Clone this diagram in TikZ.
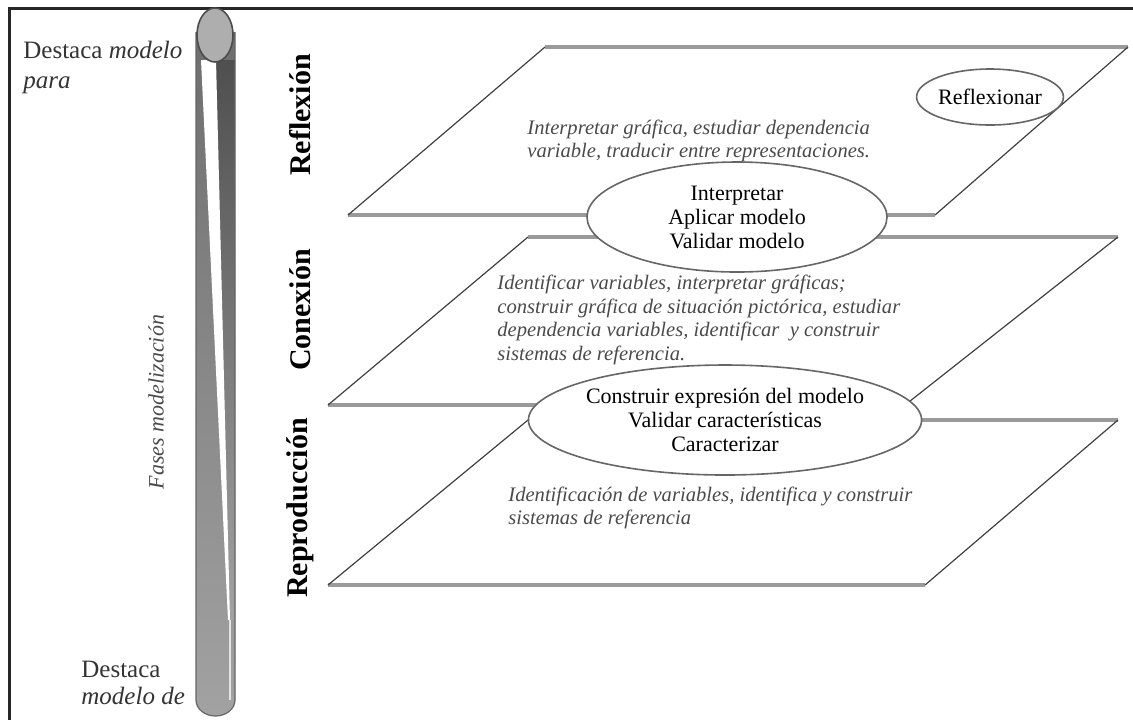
\documentclass[tikz,border=0pt]{standalone}
\usepackage{fontspec}
\setmainfont{Liberation Serif}
\usetikzlibrary{shapes.geometric}

\definecolor{bar_dark}{HTML}{4F4F4F}
\definecolor{bar_mid}{HTML}{6E6E6E}
\definecolor{bar_light}{HTML}{A2A2A2}
\definecolor{cap_gray}{HTML}{AEAEAE}
\definecolor{edge_gray}{HTML}{9A9A9A}
\definecolor{text_gray}{HTML}{4A4A4A}

\begin{document}
\begin{tikzpicture}[x=0.5pt, y=-0.5pt,
	hedge/.style={line width=1.6pt, edge_gray},
	sedge/.style={line width=0.6pt, black!75},
	phase/.style={ellipse, draw=black!60, line width=0.8pt, fill=white, inner sep=0pt, align=center, font=\fontsize{11}{12}\selectfont},
	task/.style={anchor=west, align=left, text=text_gray, inner sep=0pt, font=\fontsize{10.3}{11.7}\selectfont\itshape},
	level/.style={rotate=90, inner sep=0pt, font=\fontsize{15}{18}\selectfont\bfseries},
	side/.style={anchor=west, align=left, inner sep=0pt, text=black!80}]
   \useasboundingbox (0,0) rectangle (1133,720);
   % frame
   \draw [line width=1.5pt, black!85] (1133,8) -- (9,8) -- (9,720);
   % bar body
   \shade [top color=bar_mid, bottom color=bar_light] (196,32) -- (196,700) arc [start angle=180, end angle=0, x radius=19.5, y radius=16] -- (235,32) -- cycle;
   \shade [top color=bar_dark, bottom color=bar_light] (216,60) -- (235,60) -- (235,620) -- (230,620) -- cycle;
   % white stripe
   \fill [white] (201,60) -- (216,60) -- (230,620) -- (228,620) -- cycle;
   \draw [white!70!bar_light, line width=0.8pt] (230,620) -- (230,700);
   \draw [black!60, line width=0.6pt] (196,32) -- (196,700) arc [start angle=180, end angle=0, x radius=19.5, y radius=16] -- (235,32);
   % top cap
   \draw [fill=cap_gray, draw=black!70, line width=0.8pt] (215,35) ellipse [x radius=18, y radius=27];
   % side texts
   \node [side, font=\fontsize{12.5}{15}\selectfont] (para) at (23,67) {Destaca \textit{modelo}\\\textit{para}};
   \node [side, font=\fontsize{12.5}{13.5}\selectfont] (de) at (81,683) {Destaca\\\textit{modelo de}};
   \node [rotate=90, inner sep=0pt, text=text_gray, font=\fontsize{11}{12}\selectfont\itshape] (fases) at (156,402) {Fases modelización};
   % plane reflexion
   \draw [hedge] (545,47) -- (1128,47);
   \draw [hedge] (348,215) -- (935,215);
   \draw [sedge] (348,215) -- (545,47);
   \draw [sedge] (935,215) -- (1128,47);
   % plane conexion
   \draw [hedge] (528,237) -- (1118,237);
   \draw [hedge] (328,405) -- (905,405);
   \draw [sedge] (328,405) -- (528,237);
   \draw [sedge] (905,405) -- (1118,237);
   % plane reproduccion
   \draw [hedge] (528,420) -- (1118,420);
   \draw [hedge] (328,585) -- (925,585);
   \draw [sedge] (328,585) -- (528,420);
   \draw [sedge] (925,585) -- (1118,420);
   % level names
   \node [level] (reflexion) at (300,115) {Reflexión};
   \node [level] (conexion) at (300,310) {Conexión};
   \node [level] (reproduccion) at (300,508) {Reproducción};
   % tasks on each plane
   \node [task] (t_refl) at (527,141) {Interpretar gráfica, estudiar dependencia\\variable, traducir entre representaciones.};
   \node [task] (t_con) at (497,320) {Identificar variables, interpretar gráficas;\\construir gráfica de situación pictórica, estudiar\\dependencia variables, identificar~ y construir\\sistemas de referencia.};
   \node [task] (t_rep) at (508,508) {Identificación de variables, identifica y construir\\sistemas de referencia};
   % phases
   \node [phase, minimum width=72.5pt, minimum height=28pt] (reflexionar) at (990,97) {Reflexionar};
   \node [phase, minimum width=150pt, minimum height=55pt] (interpretar) at (737,217) {Interpretar\\Aplicar modelo\\Validar modelo};
   \node [phase, minimum width=195pt, minimum height=55pt] (construir) at (725,420) {Construir expresión del modelo\\Validar características\\Caracterizar};
\end{tikzpicture}
\end{document}
